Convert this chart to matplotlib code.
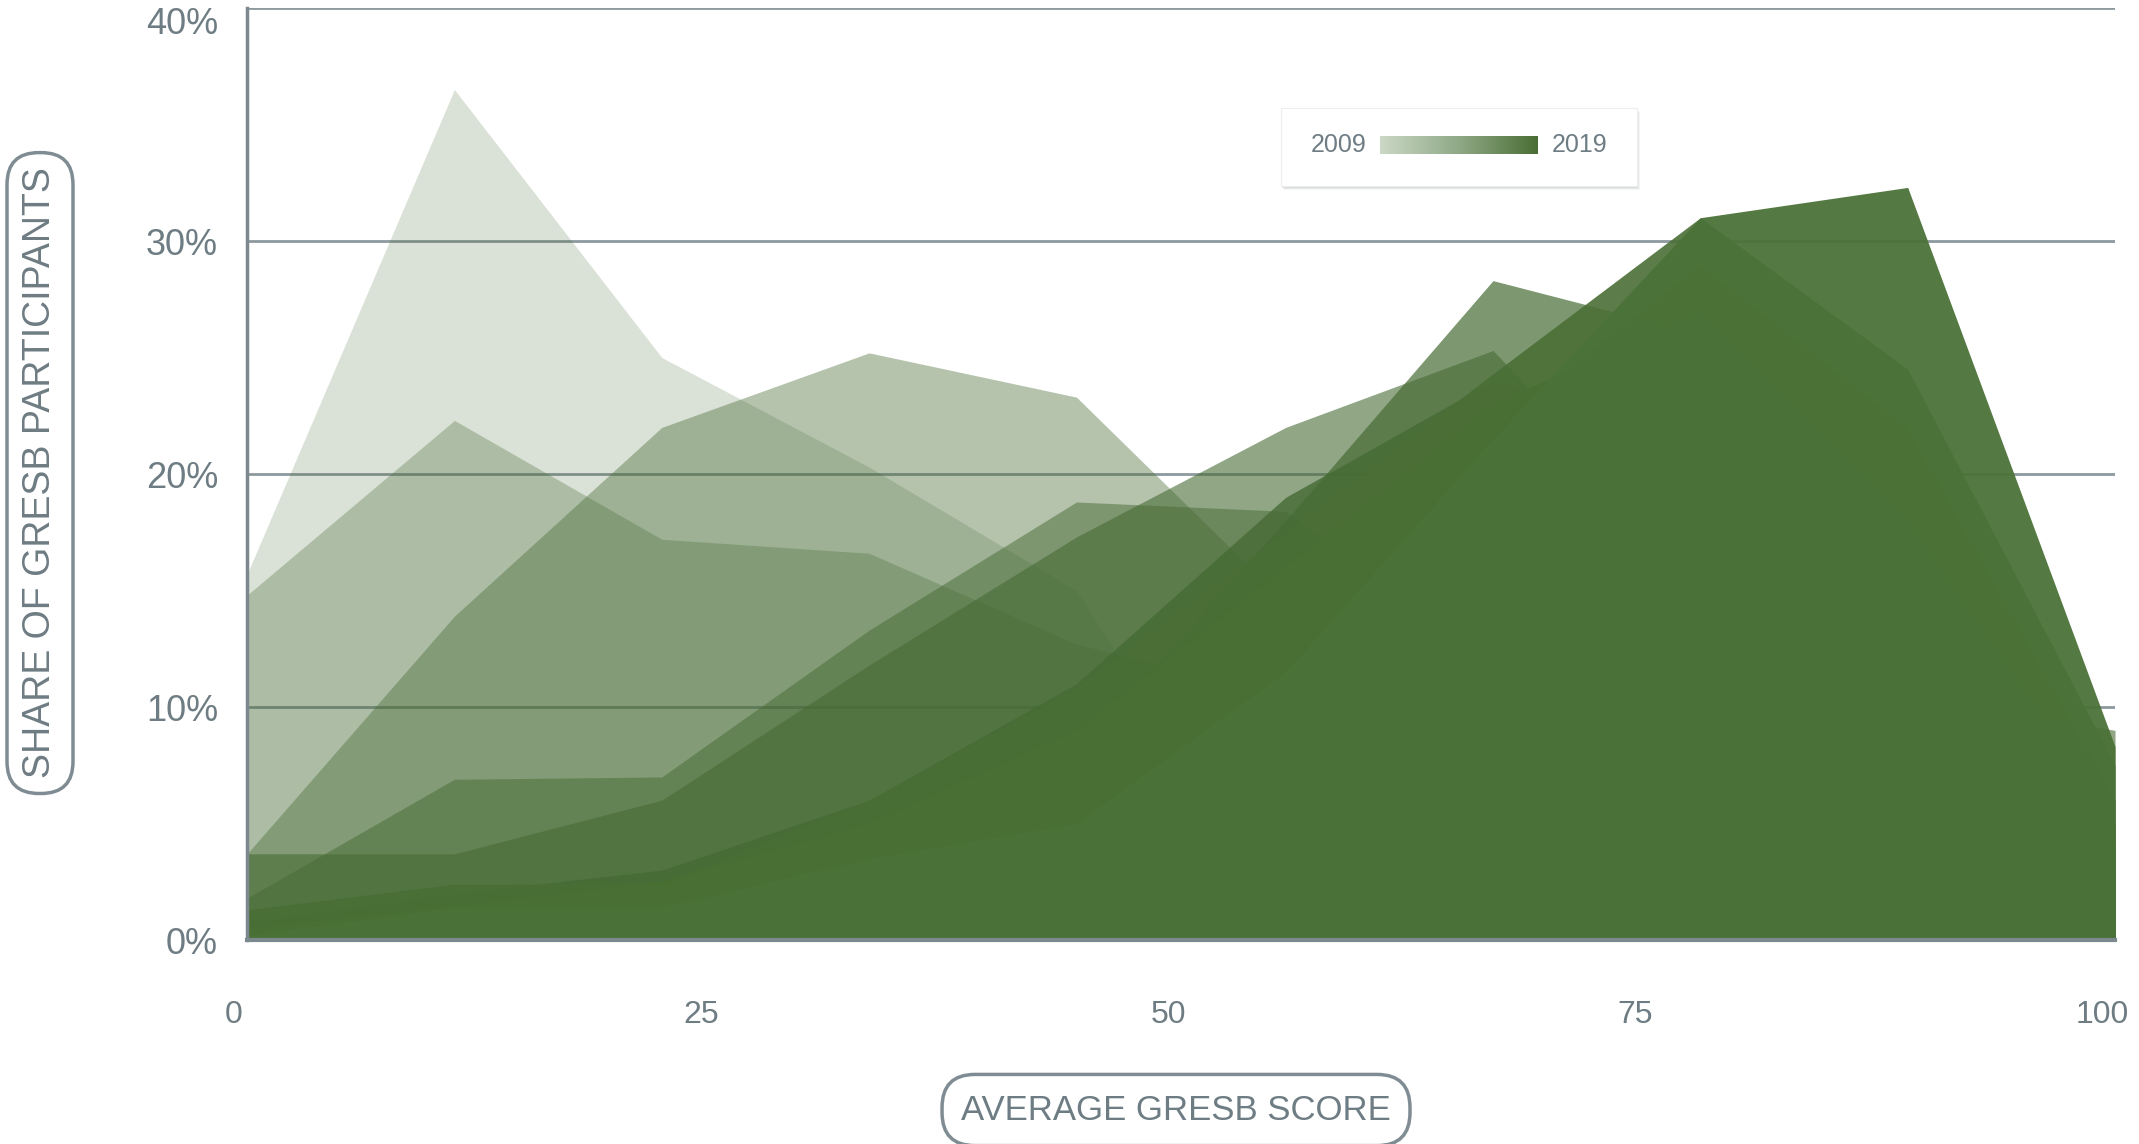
import numpy as np
import matplotlib.pyplot as plt
import matplotlib.transforms as mtransforms
from matplotlib.colors import LinearSegmentedColormap
from matplotlib.patches import Rectangle

plt.rcParams['font.family'] = ['Liberation Sans', 'DejaVu Sans']

# Data: share of GRESB participants (%) by average GRESB score
scores = [0, 11.1, 22.2, 33.3, 44.4, 55.6, 66.7, 77.8, 88.9, 100]
years = [2009, 2010, 2011, 2012, 2013, 2014, 2015, 2016, 2017, 2018, 2019]

share_2009 = [15.7, 36.5, 25.0, 20.3, 15.0, 1.0, 0.5, 0.3, 0.2, 0.0]
share_2010 = [14.8, 22.3, 17.2, 16.6, 12.7, 10.5, 5.0, 2.0, 1.0, 0.5]
share_2011 = [3.7, 13.9, 22.0, 25.2, 23.3, 14.5, 6.0, 3.0, 1.5, 0.5]
share_2012 = [1.8, 6.9, 7.0, 13.3, 18.8, 18.4, 12.0, 6.0, 3.0, 1.0]
share_2013 = [3.7, 3.7, 6.0, 11.8, 17.3, 22.0, 25.3, 16.0, 10.5, 9.0]
share_2014 = [0.5, 1.0, 2.0, 4.0, 8.0, 18.0, 28.3, 26.0, 15.0, 4.0]
share_2015 = [0.8, 2.0, 3.0, 6.0, 11.0, 19.0, 24.0, 22.0, 12.0, 3.0]
share_2016 = [0.5, 1.5, 2.5, 5.0, 9.0, 16.0, 23.0, 27.0, 18.0, 5.0]
share_2017 = [0.5, 1.2, 2.0, 4.0, 7.5, 14.0, 22.0, 29.0, 22.0, 6.0]
share_2018 = [1.3, 2.4, 2.4, 6.0, 10.8, 17.5, 24.3, 31.0, 24.5, 7.5]
share_2019 = [0.2, 1.4, 1.4, 3.5, 5.0, 11.5, 21.5, 31.0, 32.3, 8.3]

series = [share_2009, share_2010, share_2011, share_2012, share_2013, share_2014,
          share_2015, share_2016, share_2017, share_2018, share_2019]

# one green, getting more opaque every year
colors = ['#466b34'] * 7 + ['#45712d', '#45712d', '#4a6f35', '#4b7238']
alphas = [0.2, 0.3, 0.4, 0.5, 0.6, 0.7, 0.8, 0.88, 0.9, 0.9, 0.95]

grey = '#6e7c83'
line_grey = '#8d999e'

fig = plt.figure(figsize=(21.39, 11.44), dpi=100)
ax = fig.add_axes([0.1155, 0.1783, 0.8733, 0.8147])

# Areas, oldest at the back
for vals, col, a in zip(series, colors, alphas):
    ax.fill_between(scores, vals, 0, color=col, alpha=a, lw=0)

ax.set_xlim(0, 100)
ax.set_ylim(0, 40)
ax.set_xticks([0, 25, 50, 75, 100])
ax.set_xticklabels(['0', '25', '50', '75', '100'])
ax.set_yticks([0, 10, 20, 30, 40])
ax.set_yticklabels(['0%', '10%', '20%', '30%', '40%'])

ax.set_axisbelow(True)
ax.yaxis.grid(True, color=line_grey, lw=2)
ax.xaxis.grid(False)

for s in ['top', 'right']:
    ax.spines[s].set_visible(False)
ax.spines['left'].set_color('#7b888d')
ax.spines['left'].set_linewidth(2.5)
ax.spines['bottom'].set_color('#7b888d')
ax.spines['bottom'].set_linewidth(3)

ax.tick_params(axis='y', length=0, pad=21, labelsize=26, labelcolor=grey)
ax.tick_params(axis='x', length=0, pad=43, labelsize=23, labelcolor=grey)

# x labels sit a little left of their ticks in the original
shift = mtransforms.ScaledTranslation(-0.13, 0, fig.dpi_scale_trans)
for lab in ax.get_xticklabels():
    lab.set_transform(lab.get_transform() + shift)
down = mtransforms.ScaledTranslation(0, -0.12, fig.dpi_scale_trans)
top_lab = ax.get_yticklabels()[-1]
top_lab.set_transform(top_lab.get_transform() + down)

# Axis titles in rounded boxes
box = dict(boxstyle='round,pad=0.4,rounding_size=0.85', fc='white', ec='#7f8c93', lw=2.5)
fig.text(0.0187, 0.5865, 'SHARE OF GRESB PARTICIPANTS', rotation=90, ha='center', va='center',
         fontsize=27, color=grey, bbox=box)
box2 = dict(boxstyle='round,pad=0.55,rounding_size=0.95', fc='white', ec='#7f8c93', lw=2.5)
fig.text(0.5498, 0.0297, 'AVERAGE GRESB SCORE', ha='center', va='center',
         fontsize=25, color=grey, bbox=box2)

# Legend box with soft shadow
lx, ly, lw_, lh = 1281 / 2139, 1 - 186 / 1144, 356 / 2139, 78 / 1144
for i, a in enumerate([0.10, 0.14, 0.20]):
    off = (3 - i) / 2139
    offy = (4 - i) / 1144
    fig.add_artist(Rectangle((lx + off, ly - offy), lw_, lh, transform=fig.transFigure,
                             fc='#9aa2a6', ec='none', alpha=a, zorder=2))
fig.add_artist(Rectangle((lx, ly), lw_, lh, transform=fig.transFigure,
                         fc='white', ec='#eeeeee', lw=0.8, zorder=2.5))

cmap = LinearSegmentedColormap.from_list('gresb', ['#cbd8c5', '#8fa986', '#4a6e34'])
bar = fig.add_axes([1380 / 2139, 1 - 154 / 1144, 158 / 2139, 18 / 1144])
bar.imshow(np.linspace(0, 1, 256).reshape(1, -1), cmap=cmap, aspect='auto')
bar.set_axis_off()
bar.set_zorder(3)

fig.text(1366 / 2139, 1 - 145 / 1144, str(years[0]), ha='right', va='center',
         fontsize=18, color=grey, zorder=4)
fig.text(1552 / 2139, 1 - 145 / 1144, str(years[-1]), ha='left', va='center',
         fontsize=18, color=grey, zorder=4)

fig.savefig('out.png', dpi=100)
